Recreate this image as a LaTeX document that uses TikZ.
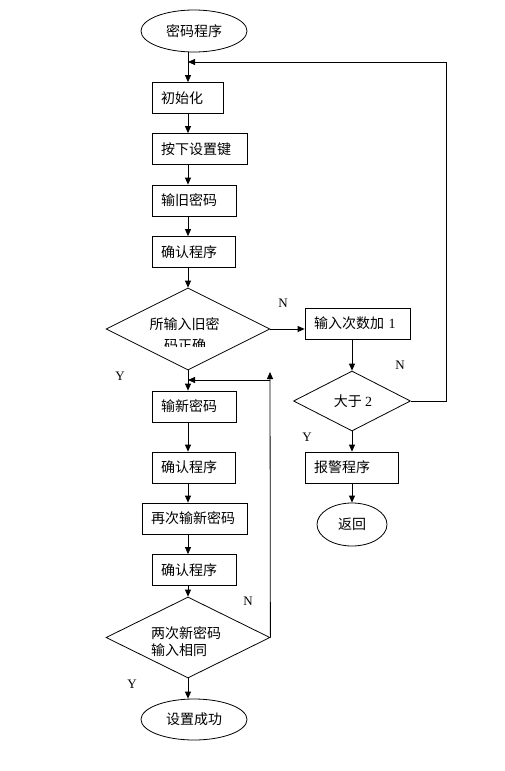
\documentclass[tikz,border=0pt]{standalone}
\usepackage{fontspec}
\setmainfont{Liberation Serif}
\newfontfamily\cjk{Noto Sans CJK SC}
\usetikzlibrary{shapes.geometric,arrows.meta}
\begin{document}
\begin{tikzpicture}[x=1pt,y=-1pt,
  line width=0.8pt,
  every node/.style={font=\fontsize{14}{17}\selectfont},
  box/.style={draw,rectangle,minimum height=31pt,inner xsep=9pt,inner ysep=0pt,align=left,font=\fontsize{14}{17}\selectfont\cjk},
  term/.style={draw,ellipse,inner sep=0pt,font=\fontsize{14}{17}\selectfont\cjk},
  dia/.style={draw,diamond,inner sep=0pt},
  dtext/.style={font=\fontsize{14}{17}\selectfont\cjk,inner sep=0pt},
  lab/.style={font=\fontsize{13}{15}\selectfont,inner sep=0pt},
  arr/.style={-{Triangle[length=7pt,width=6pt]}}]
\useasboundingbox[fill=white] (0,0) rectangle (504,771);
\coordinate (ax) at (188,0);
% left column
\node[term,minimum width=106pt,minimum height=42pt] (start) at (194,31) {密码程序};
\node[box,text width=53pt] (b1) at (187.5,98) {初始化};
\node[box,text width=77pt] (b2) at (199.5,149) {按下设置键};
\node[box,text width=66pt] (b3) at (194,200.5) {输旧密码};
\node[box,text width=65pt] (b4) at (193.5,252) {确认程序};
\node[dia,minimum width=164pt,minimum height=82pt] (d1) at (188,329) {};
\node[dtext] (d1a) at (184.5,324.5) {所输入旧密};
\begin{scope}
\clip (100,280) rectangle (280,346);
\node[dtext] (d1b) at (185,345) {码正确};
\end{scope}
\node[box,text width=66pt] (b5) at (194,406.5) {输新密码};
\node[box,text width=65pt] (b6) at (193.5,467.5) {确认程序};
\node[box,text width=87pt] (b7) at (194.5,518.5) {再次输新密码};
\node[box,text width=66pt] (b8) at (194,570) {确认程序};
\node[dia,minimum width=164pt,minimum height=81pt] (d3) at (188,637.5) {};
\node[dtext,text width=72pt,align=left] (d3a) at (187,641.5) {两次新密码\\输入相同};
\node[term,minimum width=106pt,minimum height=41pt] (ok) at (194,719.5) {设置成功};
% right column
\node[box,text width=87pt,font=\fontsize{14}{17}\selectfont] (r1) at (357.5,323.5) {{\cjk 输入次数加} 1};
\node[dia,minimum width=117pt,minimum height=60pt] (d2) at (352,401) {};
\node[dtext] (d2a) at (353,401) {大于 {\rmfamily 2}};
\node[box,text width=75pt] (r2) at (351.5,467.5) {报警程序};
\node[term,minimum width=70pt,minimum height=43pt] (ret) at (352,524.5) {返回};
% labels
\node[lab] (n1) at (283,303) {N};
\node[lab] (n2) at (400,365) {N};
\node[lab] (y2) at (307,437) {Y};
\node[lab] (y1) at (120,376) {Y};
\node[lab] (n3) at (248,601) {N};
\node[lab] (y3) at (132,684) {Y};
% coordinates for loops
\coordinate (rt) at (446,62);
\coordinate (up) at (270,372);
\coordinate (join) at (270,380);
% connectors
\draw[arr] (start.south -| ax) -- (b1.north -| ax);
\draw[arr] (b1.south -| ax) -- (b2.north -| ax);
\draw[arr] (b2.south -| ax) -- (b3.north -| ax);
\draw[arr] (b3.south -| ax) -- (b4.north -| ax);
\draw[arr] (b4.south -| ax) -- (d1.north);
\draw[arr] (d1.south) -- (b5.north -| ax);
\draw[arr] (b5.south -| ax) -- (b6.north -| ax);
\draw[arr] (b6.south -| ax) -- (b7.north -| ax);
\draw[arr] (b7.south -| ax) -- (b8.north -| ax);
\draw[arr] (b8.south -| ax) -- (d3.north);
\draw[arr] (d3.south) -- (ok.north -| ax);
\draw[arr] (d1.east) -- (d1.east -| r1.west);
\draw[arr] (r1.south -| d2.north) -- (d2.north);
\draw[arr] (d2.south) -- (r2.north -| d2.south);
\draw[arr] (r2.south -| ret.north) -- (ret.north);
\draw[arr] (d2.east) -- (d2.east -| rt) -- (rt) -- (rt -| ax);
\draw[arr] (d3.east) -- (up);
\draw[arr] (join) -- (join -| ax);
\end{tikzpicture}
\end{document}
